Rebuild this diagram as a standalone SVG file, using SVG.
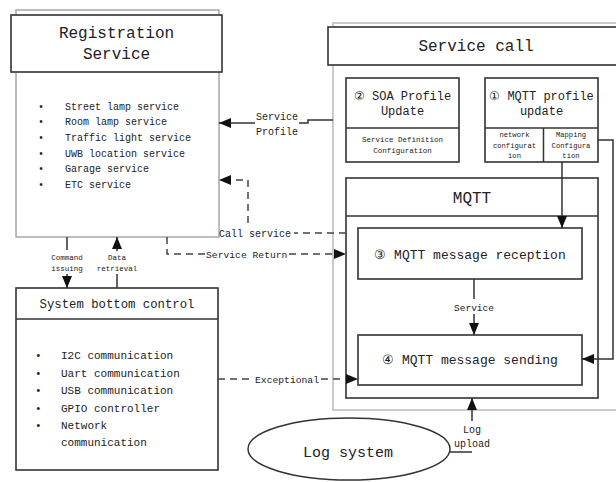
<svg xmlns="http://www.w3.org/2000/svg" width="616" height="482" viewBox="0 0 616 482">
<defs>
<style>
text{font-family:"Liberation Mono","DejaVu Sans Mono",monospace;fill:#222}
.gray{fill:#fff;stroke:#a8a8a8;stroke-width:1.5}
.box{fill:#fff;stroke:#333;stroke-width:1.6}
.ln{fill:none;stroke:#333;stroke-width:1.5}
.dash{fill:none;stroke:#444;stroke-width:1.5;stroke-dasharray:7 5}
.c{text-anchor:middle}
</style>
<marker id="ah" viewBox="0 0 12 10" refX="12" refY="5" markerWidth="12" markerHeight="10" markerUnits="userSpaceOnUse" orient="auto">
<path d="M0,0L12,5L0,10z" fill="#111"/>
</marker>
</defs>

<g id="registration-service">
<rect class="gray" x="16" y="10" width="203" height="227"/>
<rect class="box" x="11" y="15" width="211" height="57"/>
<text class="c" x="116.5" y="37.5" font-size="16">Registration</text>
<text class="c" x="116.5" y="58.5" font-size="16">Service</text>
<g font-size="10">
<text x="38" y="109.5">•</text><text x="65" y="109.5">Street lamp service</text>
<text x="38" y="124.5">•</text><text x="65" y="124.5">Room lamp service</text>
<text x="38" y="140.5">•</text><text x="65" y="140.5">Traffic light service</text>
<text x="38" y="156.5">•</text><text x="65" y="156.5">UWB location service</text>
<text x="38" y="171.5">•</text><text x="65" y="171.5">Garage service</text>
<text x="38" y="187.5">•</text><text x="65" y="187.5">ETC service</text>
</g>
</g>

<g id="service-call">
<rect x="333" y="23" width="290" height="387" fill="#fff" stroke="#bbb" stroke-width="1.5"/>
<rect class="box" x="328" y="27" width="295" height="38"/>
<text class="c" x="476" y="50.5" font-size="16">Service call</text>
</g>

<g id="soa-profile">
<rect class="box" x="346" y="78" width="113" height="84"/>
<line class="ln" x1="346" y1="128" x2="459" y2="128"/>
<text class="c" x="402.5" y="100" font-size="12">② SOA Profile</text>
<text class="c" x="402.5" y="115" font-size="12">Update</text>
<text class="c" x="402.5" y="141.5" font-size="7.5">Service Definition</text>
<text class="c" x="402.5" y="152.5" font-size="7.5">Configuration</text>
</g>

<g id="mqtt-profile">
<rect class="box" x="485" y="78" width="113" height="84"/>
<line class="ln" x1="485" y1="128" x2="598" y2="128"/>
<line class="ln" x1="543.5" y1="128" x2="543.5" y2="162"/>
<text class="c" x="541.5" y="100" font-size="12">① MQTT profile</text>
<text class="c" x="541.5" y="115" font-size="12">update</text>
<g font-size="7.2">
<text class="c" x="514.5" y="136.5">network</text>
<text class="c" x="514.5" y="147.5">configurat</text>
<text class="c" x="514.5" y="157.5">ion</text>
<text class="c" x="571" y="136.5">Mapping</text>
<text class="c" x="571" y="147.5">Configura</text>
<text class="c" x="571" y="157.5">tion</text>
</g>
</g>

<g id="mqtt">
<rect class="box" x="346" y="178" width="252" height="220"/>
<line class="ln" x1="346" y1="216" x2="598" y2="216"/>
<text class="c" x="472" y="202.5" font-size="16">MQTT</text>
</g>

<g id="mqtt-reception">
<rect class="box" x="358" y="228" width="224" height="51"/>
<text class="c" x="470" y="258.5" font-size="13">③ MQTT message reception</text>
</g>

<g id="mqtt-sending">
<rect class="box" x="358" y="335" width="224" height="50"/>
<text class="c" x="470" y="363.5" font-size="13">④ MQTT message sending</text>
</g>

<g id="system-bottom-control">
<rect class="box" x="16" y="288" width="202" height="182"/>
<line class="ln" x1="16" y1="319" x2="218" y2="319"/>
<text class="c" x="117" y="307.5" font-size="12.3">System bottom control</text>
<g font-size="11">
<text x="35" y="359">•</text><text x="61" y="359">I2C communication</text>
<text x="35" y="377">•</text><text x="61" y="377">Uart communication</text>
<text x="35" y="394">•</text><text x="61" y="394">USB communication</text>
<text x="35" y="412">•</text><text x="61" y="412">GPIO controller</text>
<text x="35" y="429">•</text><text x="61" y="429">Network</text>
<text x="61" y="446">communication</text>
</g>
</g>

<g id="log-system">
<ellipse cx="349" cy="449" rx="101" ry="31" fill="#fff" stroke="#333" stroke-width="1.5"/>
<text class="c" x="348" y="457" font-size="15">Log system</text>
</g>

<g id="connectors">
<!-- Service Profile -->
<path class="ln" d="M333,120H308V123H299"/>
<path class="ln" d="M255,123H219" marker-end="url(#ah)"/>
<text x="256" y="119.5" font-size="10">Service</text>
<text x="256" y="134.5" font-size="10">Profile</text>
<!-- Call service -->
<path class="dash" d="M346,233H294"/>
<path class="dash" d="M248,223V180H219" marker-end="url(#ah)"/>
<text x="219" y="236.5" font-size="10">Call service</text>
<!-- Service Return -->
<path class="dash" d="M167,237V254H205"/>
<path class="dash" d="M289,254H346" marker-end="url(#ah)"/>
<text x="206" y="257.5" font-size="9.7">Service Return</text>
<!-- Exceptional -->
<path class="dash" d="M218,379H253"/>
<path class="dash" d="M321,379H358" marker-end="url(#ah)"/>
<text x="255" y="382.5" font-size="9.7">Exceptional</text>
<!-- Mapping configuration to reception -->
<path class="ln" d="M562,162V228" marker-end="url(#ah)"/>
<!-- Mapping configuration to sending -->
<path class="ln" d="M598,140H613V359H582" marker-end="url(#ah)"/>
<!-- Service -->
<path class="ln" d="M474,279V299"/>
<path class="ln" d="M474,314V335" marker-end="url(#ah)"/>
<text class="c" x="474" y="310.5" font-size="9.5">Service</text>
<!-- Log upload -->
<path class="ln" d="M450,452H472"/>
<path class="ln" d="M472,421V398" marker-end="url(#ah)"/>
<text class="c" x="472" y="432.5" font-size="10">Log</text>
<text class="c" x="472" y="446.5" font-size="10">upload</text>
<!-- Command issuing -->
<path class="ln" d="M67,237V250"/>
<path class="ln" d="M67,274V288" marker-end="url(#ah)"/>
<text class="c" x="67" y="259.5" font-size="7.5">Command</text>
<text class="c" x="67" y="270.5" font-size="7.5">issuing</text>
<!-- Data retrieval -->
<path class="ln" d="M117,288V274"/>
<path class="ln" d="M117,251V237" marker-end="url(#ah)"/>
<text class="c" x="117" y="259.5" font-size="7.5">Data</text>
<text class="c" x="117" y="270.5" font-size="7.5">retrieval</text>
</g>
</svg>
